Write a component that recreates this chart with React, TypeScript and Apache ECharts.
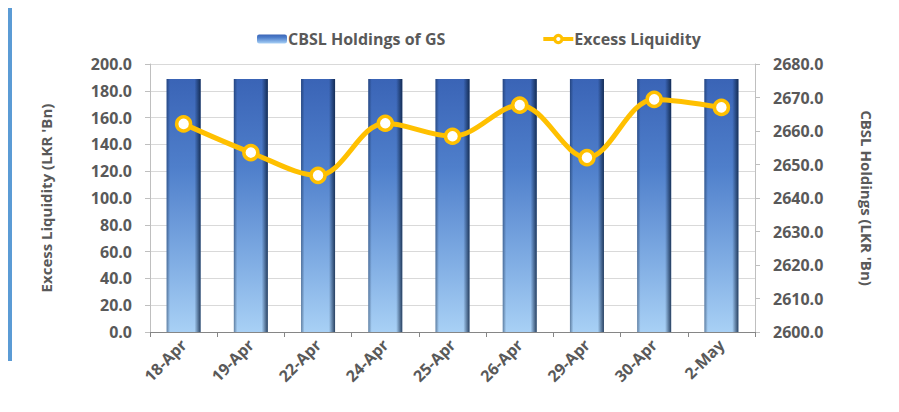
import React, { useEffect, useRef } from "react";
import * as echarts from "echarts";

const categories = ["18-Apr", "19-Apr", "22-Apr", "24-Apr", "25-Apr", "26-Apr", "29-Apr", "30-Apr", "2-May"];
const excessLiquidity = [155.3, 133.9, 116.9, 155.8, 146.1, 169.3, 130.1, 173.6, 167.6];
const cbslHoldings = [2675.5, 2675.5, 2675.5, 2675.5, 2675.5, 2675.5, 2675.5, 2675.5, 2675.5];
const leftTicks = { min: 0, max: 200, interval: 20 };
const rightTicks = { min: 2600, max: 2680, interval: 10 };

const TXT = "#595959";
const FONT = "'Open Sans', 'Liberation Sans', sans-serif";

export default function App() {
  const ref = useRef<HTMLDivElement>(null);
  useEffect(() => {
    if (!ref.current) return;
    const chart = echarts.init(ref.current, null, { renderer: "svg" });
    const barFill = new echarts.graphic.LinearGradient(0, 0, 0, 1, [
      { offset: 0, color: "#3A64B6" },
      { offset: 0.35, color: "#4F7FCB" },
      { offset: 0.7, color: "#7DAAE2" },
      { offset: 1, color: "#A8D0F5" },
    ]);
    const edgeFill = new echarts.graphic.LinearGradient(0, 0, 1, 0, [
      { offset: 0, color: "rgba(10,30,60,0.45)" },
      { offset: 0.1, color: "rgba(10,30,60,0.0)" },
      { offset: 0.82, color: "rgba(10,30,60,0.0)" },
      { offset: 0.92, color: "rgba(10,30,60,0.45)" },
      { offset: 1, color: "rgba(10,30,60,0.8)" },
    ]);
    const axisLabel = { color: TXT, fontFamily: FONT, fontWeight: "bold" as const, fontSize: 16 };
    chart.setOption({
      animation: false,
      textStyle: { fontFamily: FONT },
      legend: {
        left: 252,
        top: 26,
        itemGap: 96,
        itemWidth: 30,
        itemHeight: 9,
        data: [
          { name: "CBSL Holdings of GS" },
          { name: "Excess Liquidity", lineStyle: { width: 4 }, itemStyle: { borderWidth: 3 } },
        ],
        textStyle: { color: TXT, fontFamily: FONT, fontWeight: "bold", fontSize: 16, padding: [0, 0, 0, -4] },
      },
      grid: { left: 150, right: 144, top: 64, bottom: 80 },
      xAxis: {
        type: "category",
        data: categories,
        axisLine: { lineStyle: { color: "#868686", width: 1 } },
        axisTick: { show: true, alignWithLabel: false, length: 5, lineStyle: { color: "#868686" } },
        axisLabel: { ...axisLabel, rotate: 45, margin: 10, interval: 0 },
      },
      yAxis: [
        {
          type: "value",
          position: "left",
          ...leftTicks,
          name: "Excess Liquidity (LKR 'Bn)",
          nameLocation: "middle",
          nameRotate: 90,
          nameGap: 97,
          nameTextStyle: { color: TXT, fontFamily: FONT, fontWeight: "bold", fontSize: 15 },
          axisLine: { show: true, lineStyle: { color: "#BFBFBF" } },
          axisTick: { show: true, length: 5, lineStyle: { color: "#BFBFBF" } },
          axisLabel: { ...axisLabel, margin: 18, formatter: (v: number) => v.toFixed(1) },
          splitLine: { show: true, lineStyle: { color: "#D9D9D9" } },
        },
        {
          type: "value",
          position: "right",
          ...rightTicks,
          name: "CBSL Holdings (LKR 'Bn)",
          nameLocation: "middle",
          nameRotate: -90,
          nameGap: 104,
          nameTextStyle: { color: TXT, fontFamily: FONT, fontWeight: "bold", fontSize: 15 },
          axisLine: { show: true, lineStyle: { color: "#BFBFBF" } },
          axisTick: { show: true, length: 5, lineStyle: { color: "#BFBFBF" } },
          axisLabel: { ...axisLabel, margin: 18, formatter: (v: number) => v.toFixed(1) },
          splitLine: { show: false },
        },
      ],
      series: [
        {
          name: "CBSL Holdings of GS",
          type: "bar",
          yAxisIndex: 1,
          data: cbslHoldings,
          barWidth: 34,
          itemStyle: { color: barFill },
        },
        {
          name: "edge",
          type: "bar",
          yAxisIndex: 1,
          data: cbslHoldings,
          barWidth: 34,
          barGap: "-100%",
          silent: true,
          itemStyle: { color: edgeFill },
        },
        {
          name: "Excess Liquidity",
          type: "line",
          yAxisIndex: 0,
          data: excessLiquidity,
          smooth: 0.35,
          symbol: "circle",
          symbolSize: 14,
          lineStyle: { color: "#FFC000", width: 5 },
          itemStyle: { color: "#FFFFFF", borderColor: "#FFC000", borderWidth: 3.5 },
          z: 5,
        },
      ],
    });
    return () => chart.dispose();
  }, []);
  return (
    <div style={{ position: "relative", width: 899, height: 412, margin: -8 }}>
      <div style={{ position: "absolute", left: 8, top: 0, width: 4, height: 361, background: "#5B9BD5" }} />
      <div ref={ref} style={{ position: "absolute", left: 0, top: 0, width: 899, height: 412 }} />
    </div>
  );
}
